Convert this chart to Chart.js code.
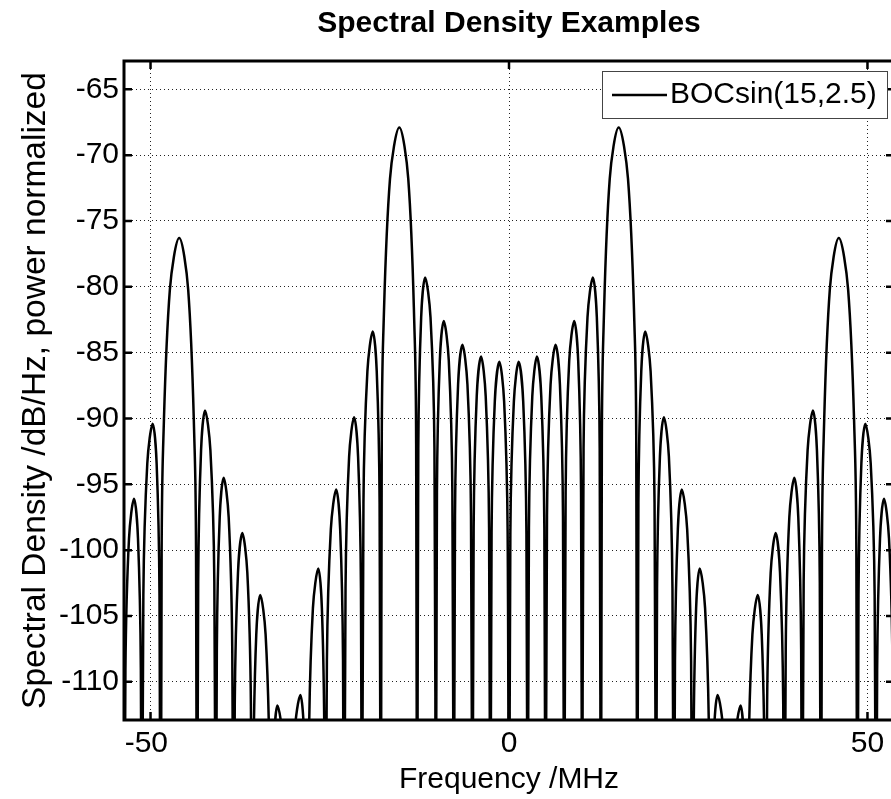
<!DOCTYPE html>
<html>
<head>
<meta charset="utf-8">
<script src="https://cdn.jsdelivr.net/npm/chart.js@4.4.0/dist/chart.umd.min.js"></script>
<style>
  html, body { margin: 0; padding: 0; background: #fff; overflow: hidden; }
  #wrap { width: 894px; height: 799px; }
</style>
</head>
<body>
<div id="wrap"><canvas id="psdChart"></canvas></div>
<script>
// values (MHz, dB/Hz); nulls go far below the axis floor
var seriesName = 'BOCsin(15,2.5)';
var xTicks = [-50, 0, 50];
var yTicks = [-110, -105, -100, -95, -90, -85, -80, -75, -70, -65];

var freqMHz = [
    -53.7,
    -53.5, -53.0, -52.3, -51.75, -51.35,
    -51.2,
    -51.0, -50.45, -49.7, -49.15, -48.75,
    -48.6,
    -48.45, -48.25, -47.3, -46.0, -44.75, -43.85, -43.65,
    -43.5,
    -43.35, -42.95, -42.4, -41.65, -41.1,
    -40.9,
    -40.75, -40.35, -39.8, -39.1, -38.6,
    -38.4,
    -38.25, -37.8, -37.2, -36.5, -36.0,
    -35.8,
    -35.65, -35.25, -34.7, -33.95, -33.4,
    -33.2,
    -32.75, -32.3, -31.5,
    -30.7,
    -29.9, -29.1, -28.6,
    -28.1,
    -27.9, -27.35, -26.6, -26.1, -25.75,
    -25.6,
    -25.4, -24.85, -24.1, -23.55, -23.15,
    -23.0,
    -22.8, -22.3, -21.6, -21.05, -20.65,
    -20.5,
    -20.3, -19.75, -19.0, -18.45, -18.05,
    -17.9,
    -17.75, -17.55, -16.6, -15.3, -14.05, -13.15, -12.95,
    -12.8,
    -12.65, -12.25, -11.7, -10.95, -10.4,
    -10.2,
    -10.05, -9.65, -9.1, -8.4, -7.9,
    -7.7,
    -7.53, -7.1, -6.5, -5.8, -5.3,
    -5.1,
    -4.93, -4.5, -3.9, -3.25, -2.78,
    -2.6,
    -2.43, -1.98, -1.35, -0.68, -0.19,
    0,
    0.19, 0.68, 1.35, 1.98, 2.43,
    2.6,
    2.78, 3.25, 3.9, 4.5, 4.93,
    5.1,
    5.3, 5.8, 6.5, 7.1, 7.53,
    7.7,
    7.9, 8.4, 9.1, 9.65, 10.05,
    10.2,
    10.4, 10.95, 11.7, 12.25, 12.65,
    12.8,
    12.95, 13.15, 14.05, 15.3, 16.6, 17.55, 17.75,
    17.9,
    18.05, 18.45, 19.0, 19.75, 20.3,
    20.5,
    20.65, 21.05, 21.6, 22.3, 22.8,
    23.0,
    23.15, 23.55, 24.1, 24.85, 25.4,
    25.6,
    25.75, 26.1, 26.6, 27.35, 27.9,
    28.1,
    28.6, 29.1, 29.9,
    30.7,
    31.5, 32.3, 32.75,
    33.2,
    33.4, 33.95, 34.7, 35.25, 35.65,
    35.8,
    36.0, 36.5, 37.2, 37.8, 38.25,
    38.4,
    38.6, 39.1, 39.8, 40.35, 40.75,
    40.9,
    41.1, 41.65, 42.4, 42.95, 43.35,
    43.5,
    43.65, 43.85, 44.75, 46.0, 47.3, 48.25, 48.45,
    48.6,
    48.75, 49.15, 49.7, 50.45, 51.0,
    51.2,
    51.35, 51.75, 52.3, 53.0, 53.5,
    53.7
];

var psdDb = [
    -140,
    -109.1, -99.1, -96.1, -99.1, -109.1,
    -140,
    -103.4, -93.4, -90.4, -93.4, -103.4,
    -140,
    -100.3, -92.3, -80.2, -76.3, -80.2, -92.3, -100.3,
    -140,
    -102.4, -92.4, -89.4, -92.4, -102.4,
    -140,
    -107.5, -97.5, -94.5, -97.5, -107.5,
    -140,
    -111.7, -101.7, -98.7, -101.7, -111.7,
    -140,
    -116.4, -106.4, -103.4, -106.4, -116.4,
    -140,
    -114.8, -111.8, -114.8,
    -140,
    -114.0, -111.0, -114.0,
    -140,
    -114.4, -104.4, -101.4, -104.4, -114.4,
    -140,
    -108.4, -98.4, -95.4, -98.4, -108.4,
    -140,
    -102.9, -92.9, -89.9, -92.9, -102.9,
    -140,
    -96.4, -86.4, -83.4, -86.4, -96.4,
    -140,
    -91.9, -83.9, -71.8, -67.9, -71.8, -83.9, -91.9,
    -140,
    -92.3, -82.3, -79.3, -82.3, -92.3,
    -140,
    -95.6, -85.6, -82.6, -85.6, -95.6,
    -140,
    -97.4, -87.4, -84.4, -87.4, -97.4,
    -140,
    -98.3, -88.3, -85.3, -88.3, -98.3,
    -140,
    -98.7, -88.7, -85.7, -88.7, -98.7,
    -140,
    -98.7, -88.7, -85.7, -88.7, -98.7,
    -140,
    -98.3, -88.3, -85.3, -88.3, -98.3,
    -140,
    -97.4, -87.4, -84.4, -87.4, -97.4,
    -140,
    -95.6, -85.6, -82.6, -85.6, -95.6,
    -140,
    -92.3, -82.3, -79.3, -82.3, -92.3,
    -140,
    -91.9, -83.9, -71.8, -67.9, -71.8, -83.9, -91.9,
    -140,
    -96.4, -86.4, -83.4, -86.4, -96.4,
    -140,
    -102.9, -92.9, -89.9, -92.9, -102.9,
    -140,
    -108.4, -98.4, -95.4, -98.4, -108.4,
    -140,
    -114.4, -104.4, -101.4, -104.4, -114.4,
    -140,
    -114.0, -111.0, -114.0,
    -140,
    -114.8, -111.8, -114.8,
    -140,
    -116.4, -106.4, -103.4, -106.4, -116.4,
    -140,
    -111.7, -101.7, -98.7, -101.7, -111.7,
    -140,
    -107.5, -97.5, -94.5, -97.5, -107.5,
    -140,
    -102.4, -92.4, -89.4, -92.4, -102.4,
    -140,
    -100.3, -92.3, -80.2, -76.3, -80.2, -92.3, -100.3,
    -140,
    -103.4, -93.4, -90.4, -93.4, -103.4,
    -140,
    -109.1, -99.1, -96.1, -99.1, -109.1,
    -140
];

var FONT = "'Liberation Sans', Arial, Helvetica, sans-serif";
Chart.defaults.font.family = FONT;
Chart.defaults.color = '#000';

// matlab style box: inward ticks on all four sides + boxed legend
var matlabFrame = {
    id: 'matlabFrame',
    afterDatasetsDraw: function (chart) {
        var ctx = chart.ctx, a = chart.chartArea;
        var xs = chart.scales.x, ys = chart.scales.y;
        ctx.save();
        ctx.strokeStyle = '#000';
        ctx.lineWidth = 2.5;
        ctx.beginPath();
        xTicks.forEach(function (v) {
            var px = xs.getPixelForValue(v);
            ctx.moveTo(px, a.bottom); ctx.lineTo(px, a.bottom - 8);
            ctx.moveTo(px, a.top); ctx.lineTo(px, a.top + 8);
        });
        yTicks.forEach(function (v) {
            var py = ys.getPixelForValue(v);
            ctx.moveTo(a.left, py); ctx.lineTo(a.left + 8, py);
            ctx.moveTo(a.right, py); ctx.lineTo(a.right - 8, py);
        });
        ctx.stroke();
        ctx.lineWidth = 3;
        ctx.strokeRect(a.left, a.top, a.right - a.left, a.bottom - a.top);

        var bx = a.right - 292, by = a.top + 10, bw = 285, bh = 47;
        ctx.fillStyle = '#fff';
        ctx.fillRect(bx, by, bw, bh);
        ctx.lineWidth = 1;
        ctx.strokeStyle = '#444';
        ctx.strokeRect(bx + 0.5, by + 0.5, bw, bh);
        ctx.strokeStyle = '#000';
        ctx.lineWidth = 2.5;
        ctx.beginPath();
        ctx.moveTo(bx + 10, by + 24);
        ctx.lineTo(bx + 65, by + 24);
        ctx.stroke();
        ctx.fillStyle = '#000';
        ctx.font = '30px ' + FONT;
        ctx.textBaseline = 'middle';
        ctx.textAlign = 'left';
        ctx.fillText(chart.data.datasets[0].label, bx + 68, by + 24);
        ctx.restore();
    }
};

var ctx = document.getElementById('psdChart');
var psdChart = new Chart(ctx, {
    type: 'line',
    data: {
        datasets: [{
            label: seriesName,
            data: freqMHz.map(function (f, i) { return { x: f, y: psdDb[i] }; }),
            borderColor: '#000',
            borderWidth: 2.5,
            pointRadius: 0,
            tension: 0.35,
            fill: false
        }]
    },
    options: {
        responsive: true,
        maintainAspectRatio: false,
        animation: false,
        layout: { padding: 0 },
        plugins: {
            legend: { display: false },
            tooltip: { enabled: false },
            title: {
                display: true,
                fullSize: false,
                text: 'Spectral Density Examples',
                color: '#000',
                font: { size: 30, weight: 'bold' },
                padding: { top: 6, bottom: 19 }
            }
        },
        scales: {
            x: {
                type: 'linear',
                min: -53.7,
                max: 53.7,
                afterBuildTicks: function (s) { s.ticks = xTicks.map(function (v) { return { value: v }; }); },
                afterFit: function (s) { s.height = 79; },
                ticks: {
                    font: { size: 30 },
                    padding: 6,
                    maxRotation: 0,
                    callback: function (v) { return v < 0 ? v + ' ' : String(v); }
                },
                grid: { color: '#222', lineWidth: 1, drawTicks: false },
                border: { display: false, dash: [1, 3] },
                title: {
                    display: true,
                    text: 'Frequency /MHz',
                    font: { size: 30 },
                    padding: { top: 0, bottom: 1 }
                }
            },
            y: {
                type: 'linear',
                min: -112.9,
                max: -62.85,
                afterBuildTicks: function (s) { s.ticks = yTicks.map(function (v) { return { value: v }; }); },
                afterFit: function (s) { s.width = 124; },
                ticks: { font: { size: 30 }, padding: 5 },
                grid: { color: '#222', lineWidth: 1, drawTicks: false },
                border: { display: false, dash: [1, 3] },
                title: {
                    display: true,
                    text: 'Spectral Density /dB/Hz, power normalized',
                    font: { size: 33.5 },
                    padding: { top: 16, bottom: 0 }
                }
            }
        }
    },
    plugins: [matlabFrame]
});
</script>
</body>
</html>
